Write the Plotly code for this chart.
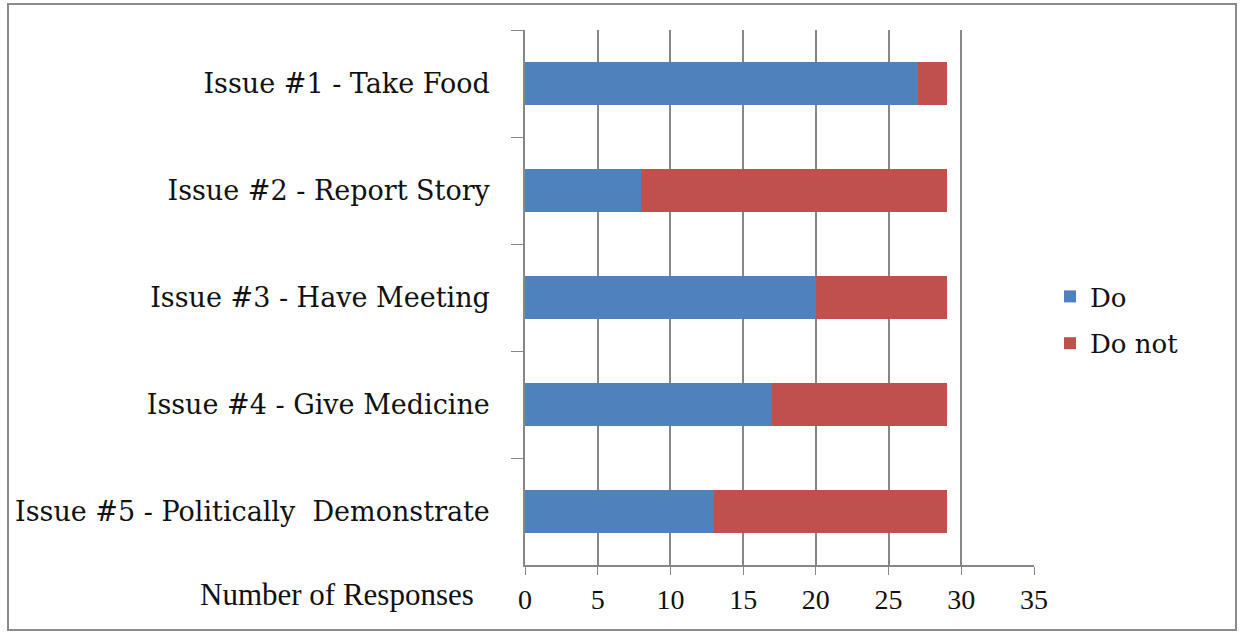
import plotly.graph_objects as go

# Survey responses per issue
issues = [
    "Issue #1 - Take Food",
    "Issue #2 - Report Story",
    "Issue #3 - Have Meeting",
    "Issue #4 - Give Medicine",
    "Issue #5 - Politically  Demonstrate",
]
do_counts = [27, 8, 20, 17, 13]
do_not_counts = [2, 21, 9, 12, 16]
x_ticks = [0, 5, 10, 15, 20, 25, 30, 35]

BLUE = "#4F81BD"
RED = "#C0504D"
GRID = "#878787"
LABEL_FONT = "DejaVu Serif, serif"
TIMES = "Liberation Serif, Times New Roman, serif"

W, H = 1244, 633
ML, MR, MT, MB = 525, 210, 30, 68
PW, PH = W - ML - MR, H - MT - MB


def px_to_paper_x(px):
    return (px - ML) / PW


def px_to_paper_y(py):
    return (H - MB - py) / PH


fig = go.Figure()
fig.add_trace(go.Bar(
    y=issues, x=do_counts, name="Do", orientation="h", legendgroup="do",
    marker=dict(color=BLUE, line=dict(width=0)), width=0.4,
))
fig.add_trace(go.Bar(
    y=issues, x=do_not_counts, name="Do not", orientation="h", legendgroup="donot",
    marker=dict(color=RED, line=dict(width=0)), width=0.4,
))

fig.update_layout(
    width=W, height=H,
    barmode="stack",
    plot_bgcolor="white", paper_bgcolor="white",
    margin=dict(l=ML, r=MR, t=MT, b=MB, pad=0),
    font=dict(family=LABEL_FONT, size=22, color="#111111"),
    legend=dict(
        x=px_to_paper_x(1050), y=px_to_paper_y(320),
        xanchor="left", yanchor="middle",
        traceorder="grouped",
        font=dict(family=LABEL_FONT, size=26, color="#111111"),
        itemwidth=30, tracegroupgap=10, bgcolor="rgba(0,0,0,0)",
    ),
    xaxis=dict(
        range=[0, 35], tickvals=x_ticks,
        showgrid=True, gridcolor=GRID, gridwidth=1.5,
        showline=True, linecolor=GRID, linewidth=2,
        ticks="outside", ticklen=8, tickcolor=GRID, tickwidth=1,
        tickfont=dict(family=TIMES, size=28, color="#111111"),
        zeroline=False, fixedrange=True,
    ),
    yaxis=dict(
        type="category", autorange="reversed",
        tickson="boundaries", ticks="outside", ticklen=12,
        tickcolor=GRID, tickwidth=1,
        showgrid=False, showline=True, linecolor=GRID, linewidth=1.5,
        tickfont=dict(family=LABEL_FONT, size=27, color="#111111"),
        ticklabelstandoff=28, fixedrange=True,
    ),
)

fig.add_annotation(
    text="Number of Responses", xref="paper", yref="paper",
    x=px_to_paper_x(476), y=px_to_paper_y(594),
    xanchor="right", yanchor="middle", showarrow=False,
    font=dict(family=TIMES, size=31, color="#111111"),
)

# outer chart frame
fig.add_shape(
    type="rect", xref="paper", yref="paper",
    x0=px_to_paper_x(8), x1=px_to_paper_x(1236),
    y0=px_to_paper_y(630), y1=px_to_paper_y(4),
    line=dict(color="#8c8c8c", width=2), fillcolor="rgba(0,0,0,0)",
    layer="below",
)

fig.write_html("out.html")
